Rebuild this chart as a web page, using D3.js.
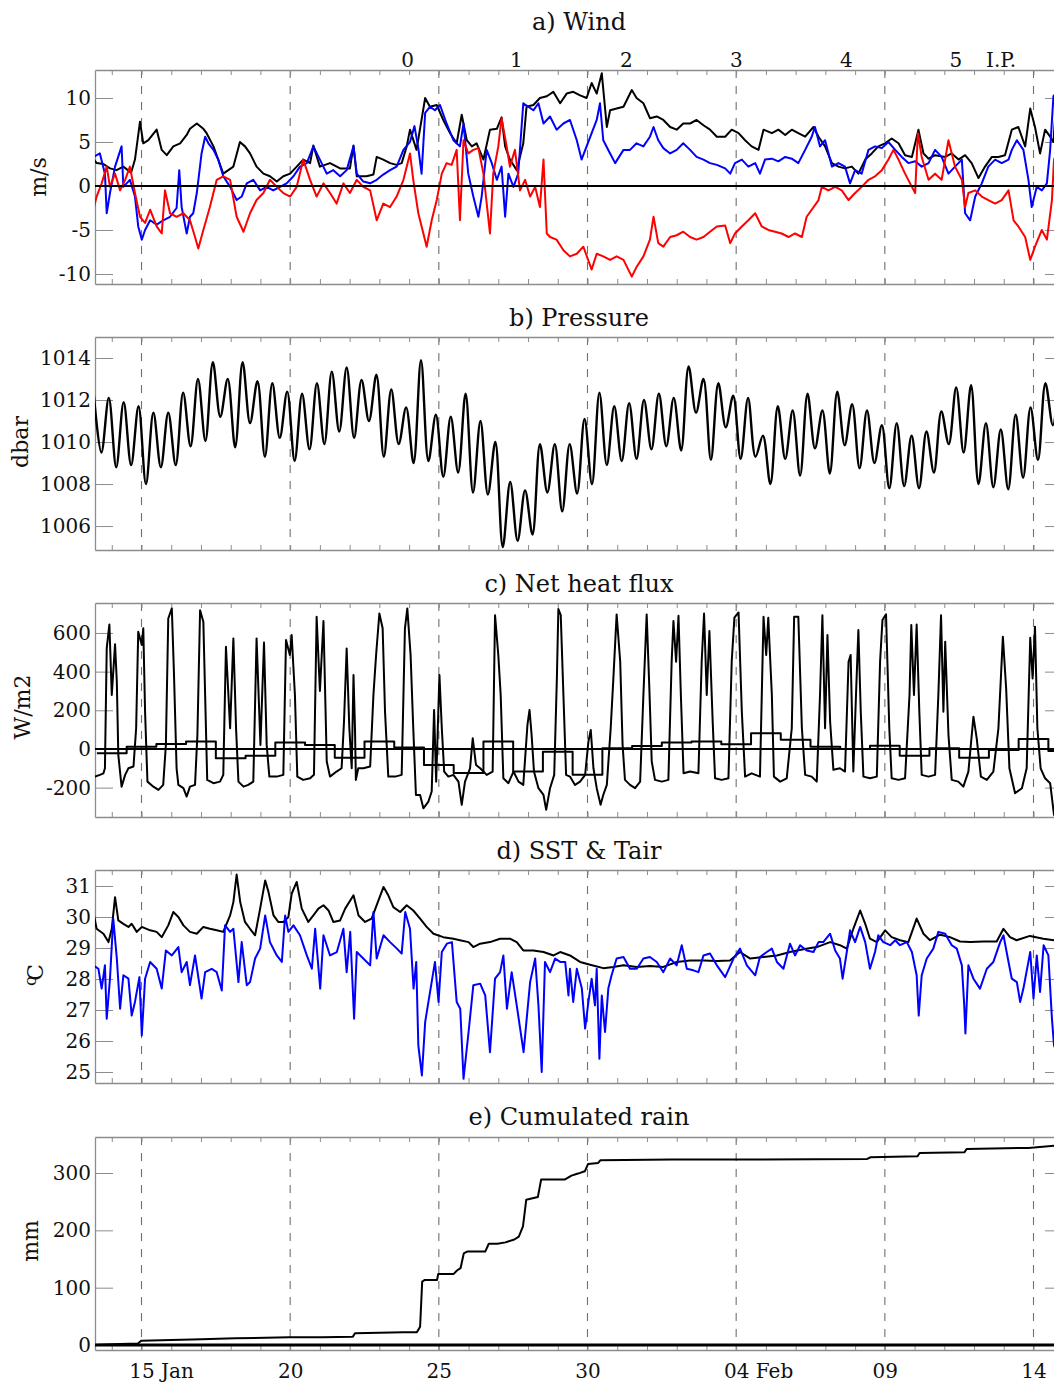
<!DOCTYPE html>
<html>
<head>
<meta charset="utf-8">
<script src="https://cdn.jsdelivr.net/npm/d3@7"></script>
<style>
  body { margin: 0; background: #fff; }
  svg { display: block; }
</style>
</head>
<body>
<svg id="fig" width="1054" height="1383"></svg>
<script>
// Time is expressed in days counted from 0 January (04 Feb = day 35).
const dayTicks = [15, 20, 25, 30, 35, 40, 45];
const dayTickLabels = ["15 Jan", "20", "25", "30", "04 Feb", "09", "14"];

// Labels printed above the wind panel
const phaseDays = [23.93, 27.59, 31.29, 34.99, 38.69, 42.37, 43.89];
const phaseLabels = ["0", "1", "2", "3", "4", "5", "I.P."];

// y tick values of each panel
const windTicks = [-10, -5, 0, 5, 10];
const pressureTicks = [1006, 1008, 1010, 1012, 1014];
const heatTicks = [-200, 0, 200, 400, 600];
const tempTicks = [25, 26, 27, 28, 29, 30, 31];
const rainTicks = [0, 100, 200, 300];

// a) Wind (m/s): speed (black), first component (blue), second component (red)
const windSpeed = [
  [13.38,3.1],[13.49,2.6],[13.72,2.5],[13.94,2.0],[14.16,1.8],[14.39,2.2],[14.65,1.5],[14.78,3.0],
  [14.95,7.3],[15.06,4.85],[15.23,5.2],[15.51,6.4],[15.68,4.1],[15.85,3.5],[16.07,4.5],[16.30,4.85],
  [16.52,5.8],[16.63,6.5],[16.86,7.1],[17.08,6.5],[17.19,6.0],[17.42,4.5],[17.75,1.4],[18.09,2.2],
  [18.31,5.0],[18.48,4.5],[18.65,3.7],[18.87,2.2],[19.10,1.4],[19.32,1.1],[19.55,0.5],[19.77,1.1],
  [20.00,1.4],[20.22,2.2],[20.44,3.0],[20.67,2.6],[20.78,4.6],[21.00,2.2],[21.34,2.6],[21.68,2.0],
  [22.01,2.0],[22.13,4.6],[22.24,1.1],[22.57,1.1],[22.80,1.3],[22.91,3.3],[23.13,3.0],[23.36,2.6],
  [23.58,2.4],[23.75,2.6],[23.92,4.5],
  [24.03,6.4],[24.25,4.1],[24.54,10.0],[24.70,9.0],[24.93,9.2],[25.15,7.5],[25.38,6.0],[25.60,4.85],
  [25.77,8.1],[25.94,5.2],[26.11,4.5],[26.27,4.85],[26.50,3.0],[26.72,6.4],[26.95,6.5],[27.11,7.8],
  [27.23,4.5],[27.39,3.0],[27.62,1.8],[27.84,4.85],[27.95,9.0],[28.18,9.2],[28.40,10.0],[28.63,10.2],
  [28.85,10.7],[29.08,9.4],[29.30,10.5],[29.52,10.7],[29.75,10.3],[29.97,10.0],[30.14,11.7],[30.31,10.5],
  [30.48,12.8],[30.65,6.7],[30.76,8.6],[30.98,8.8],[31.21,9.0],[31.49,10.9],[31.65,10.0],[31.88,9.4],
  [32.10,7.7],[32.33,7.9],[32.55,7.5],[32.78,6.7],[33.00,6.4],[33.22,7.1],[33.45,7.1],[33.67,7.5],
  [33.90,6.9],[34.12,6.4],[34.35,5.6],[34.63,5.6],
  [34.85,6.4],[35.08,6.0],[35.30,5.2],[35.52,4.5],[35.75,4.1],[35.92,6.4],[36.20,6.0],[36.42,6.4],
  [36.65,5.8],[36.87,6.4],[37.09,6.0],[37.32,5.6],[37.60,6.7],[37.77,5.6],[37.99,4.5],[38.22,2.6],
  [38.44,2.2],[38.66,2.0],[38.89,2.2],[39.11,1.4],[39.34,3.0],[39.56,3.7],[39.78,4.5],[40.01,4.85],
  [40.23,5.4],[40.46,4.85],[40.68,3.5],[40.91,3.3],[41.13,6.4],[41.30,3.7],[41.47,3.1],[41.69,3.5],
  [42.03,3.3],[42.25,3.7],[42.48,3.0],[42.70,3.5],[42.92,2.6],[43.15,0.9],[43.37,2.2],[43.60,3.3],
  [43.82,3.3],[44.04,3.5],[44.27,6.4],[44.49,6.7],[44.72,4.5],[44.89,8.8],[45.05,6.7],[45.22,3.7],
  [45.39,6.4],[45.56,5.6],[45.67,5.0],[45.75,9.0]
];
const windU = [
  [13.38,3.3],[13.60,3.7],[13.77,1.4],[13.83,-3.1],[13.94,-0.8],[14.11,2.2],[14.33,4.5],[14.39,-0.1],
  [14.61,0.7],[14.78,-1.2],[14.89,-4.6],[15.01,-6.1],[15.12,-5.0],[15.29,-3.9],[15.51,-4.4],[15.73,-3.9],
  [15.96,-3.5],[16.18,-2.5],[16.27,1.8],[16.35,-2.4],[16.52,-5.4],[16.63,-3.5],[16.74,-3.1],[16.86,-0.8],
  [17.02,3.7],[17.14,5.6],[17.25,4.85],[17.42,4.1],[17.58,3.0],[17.75,1.1],[17.98,-0.1],[18.20,-1.6],
  [18.37,-1.2],[18.54,0.3],[18.76,0.7],[18.99,-0.5],[19.21,-0.1],[19.43,-0.5],[19.66,-0.1],[19.88,0.3],
  [20.11,1.1],[20.33,2.2],[20.56,2.6],[20.78,4.5],[21.00,3.0],[21.23,1.4],[21.45,1.8],[21.68,1.1],
  [21.90,1.8],[22.13,4.5],[22.24,1.4],[22.46,0.5],[22.69,0.3],[22.91,0.7],[23.13,1.3],[23.36,1.8],
  [23.58,2.2],[23.81,4.1],
  [24.03,5.0],[24.18,6.8],[24.31,4.3],[24.42,1.4],[24.54,8.3],[24.70,9.0],[24.87,8.6],[25.04,9.2],
  [25.26,7.1],[25.49,5.2],[25.71,4.5],[25.83,7.1],[25.99,1.4],[26.16,-1.2],[26.33,-3.5],[26.44,-1.2],
  [26.61,4.1],[26.78,2.6],[26.95,0.7],[27.11,2.2],[27.23,-3.5],[27.34,1.4],[27.51,-0.1],[27.67,1.4],
  [27.84,9.4],[28.01,9.0],[28.18,8.6],[28.35,9.4],[28.52,7.1],[28.74,7.9],[28.96,6.4],[29.19,7.1],
  [29.41,7.5],[29.64,5.2],[29.80,3.0],[29.97,4.5],[30.14,6.0],[30.31,7.5],[30.42,9.4],[30.53,5.2],
  [30.76,3.7],[30.93,2.6],[31.21,4.1],[31.43,4.1],[31.65,4.85],[31.88,4.5],[32.10,5.6],[32.22,6.7],
  [32.38,5.2],[32.55,4.3],[32.78,3.7],[33.00,4.1],[33.22,4.85],[33.45,4.1],[33.67,3.3],[33.90,3.0],
  [34.12,2.6],[34.35,2.4],[34.63,2.0],
  [34.80,1.4],[34.96,2.6],[35.19,3.0],[35.41,2.2],[35.64,2.6],[35.80,1.4],[35.97,3.0],[36.20,3.1],
  [36.42,2.8],[36.65,3.3],[36.87,3.1],[37.09,2.6],[37.32,4.1],[37.54,5.6],[37.65,6.7],[37.82,4.5],
  [37.99,5.2],[38.22,2.2],[38.44,2.6],[38.66,2.2],[38.83,0.3],[39.00,1.8],[39.22,1.4],[39.45,4.1],
  [39.67,4.5],[39.90,4.3],[40.12,5.0],[40.35,4.1],[40.57,3.3],[40.79,2.6],[41.02,2.8],[41.24,2.2],
  [41.47,2.6],[41.69,4.1],[41.91,3.3],[42.14,1.4],[42.36,2.2],[42.59,3.0],[42.70,-3.1],[42.87,-3.9],
  [43.04,-1.2],[43.26,0.3],[43.48,2.2],[43.71,3.0],[43.93,2.6],[44.16,3.0],[44.27,4.1],[44.44,5.2],
  [44.66,4.1],[44.83,0.7],[44.94,-2.4],[45.11,-0.1],[45.28,-0.5],[45.45,0.3],[45.56,4.1],[45.67,10.2],
  [45.75,10.5]
];
const windV = [
  [13.38,-2.7],[13.49,-1.2],[13.66,0.3],[13.83,2.2],[13.94,-0.1],[14.11,1.4],[14.28,-0.5],[14.45,0.7],
  [14.61,2.2],[14.78,-0.8],[14.95,-3.5],[15.12,-4.2],[15.29,-2.7],[15.51,-4.6],[15.68,-5.4],[15.79,-0.5],
  [15.96,-3.1],[16.18,-3.5],[16.41,-3.1],[16.63,-3.9],[16.80,-5.8],[16.91,-7.1],[17.08,-5.0],[17.30,-2.4],
  [17.53,0.7],[17.75,1.1],[17.98,0.7],[18.20,-3.5],[18.43,-5.2],[18.65,-3.1],[18.87,-1.6],[19.10,-0.8],
  [19.32,0.7],[19.55,-0.1],[19.77,-0.8],[20.00,-1.2],[20.22,-0.1],[20.44,3.0],[20.67,0.7],[20.89,-1.2],
  [21.12,0.3],[21.34,-0.8],[21.56,-2.0],[21.79,0.3],[22.01,-0.8],[22.24,0.7],[22.46,-0.1],[22.69,-0.5],
  [22.91,-3.9],[23.13,-2.0],[23.36,-2.4],[23.58,-1.2],[23.81,0.7],
  [24.03,3.7],[24.14,0.7],[24.31,-3.1],[24.48,-5.4],[24.59,-6.9],[24.76,-3.9],[24.93,-1.6],[25.10,1.4],
  [25.26,2.6],[25.43,2.4],[25.60,4.1],[25.71,-3.9],[25.83,5.2],[25.99,3.7],[26.16,4.1],[26.33,4.3],
  [26.50,1.4],[26.72,-5.4],[26.83,1.4],[27.00,4.5],[27.11,7.7],[27.28,4.5],[27.39,2.2],[27.56,4.1],
  [27.73,-0.5],[27.90,0.7],[28.07,-1.2],[28.24,-0.1],[28.40,-2.4],[28.52,3.0],[28.63,-5.4],[28.74,-5.8],
  [28.96,-6.1],[29.19,-7.3],[29.41,-8.0],[29.64,-7.7],[29.86,-6.9],[30.14,-9.5],[30.31,-7.7],[30.53,-8.0],
  [30.76,-8.4],[30.98,-8.0],[31.21,-8.4],[31.49,-10.3],[31.65,-9.2],[31.88,-8.0],[32.10,-6.1],[32.22,-3.5],
  [32.38,-6.5],[32.55,-6.9],[32.78,-5.8],[33.00,-5.6],[33.22,-5.2],[33.45,-5.8],[33.67,-6.1],[33.90,-5.8],
  [34.12,-5.2],[34.35,-4.6],[34.63,-4.5],
  [34.80,-6.5],[34.96,-5.4],[35.19,-4.6],[35.41,-3.9],[35.64,-3.1],[35.86,-4.6],[36.08,-5.0],[36.31,-5.2],
  [36.53,-5.4],[36.76,-5.8],[36.98,-5.4],[37.21,-5.8],[37.37,-3.5],[37.54,-2.7],[37.77,-1.6],[37.88,-0.1],
  [38.10,-0.5],[38.33,-0.1],[38.55,-0.5],[38.78,-1.6],[39.00,-0.8],[39.22,-0.1],[39.45,0.7],[39.67,1.1],
  [39.90,1.8],[40.12,3.0],[40.29,4.1],[40.46,3.0],[40.68,1.4],[40.91,-0.1],[41.02,-0.8],[41.11,6.0],
  [41.24,3.3],[41.47,0.7],[41.69,1.4],[41.91,0.7],[42.14,5.2],[42.36,2.2],[42.59,0.7],[42.70,-2.4],
  [42.81,-0.8],[43.04,-0.5],[43.26,-1.2],[43.48,-1.6],[43.71,-2.0],[43.93,-1.6],[44.16,-0.5],[44.33,-3.9],
  [44.49,-4.6],[44.72,-5.8],[44.89,-8.4],[45.05,-6.9],[45.28,-5.0],[45.45,-6.1],[45.62,-1.6],[45.69,3.0],
  [45.75,3.5]
];

// b) Pressure, sampled every 6 hours from day 13.40
const pressureStart = 13.40;
const pressureStep = 0.25;
const pressure = [
  1012.2,1009.5,1012.1,1008.8,1011.9,1008.9,1011.7,1008.0,1011.4,1008.8,1011.4,1008.9,1012.35,1009.8,
  1013.0,1010.05,1013.8,1011.2,1013.0,1009.75,1013.8,1010.9,1012.9,1009.3,1012.8,1010.2,1012.4,1009.1,
  1012.3,1009.65,1012.8,1009.9,1013.35,1010.5,1013.55,1010.2,1012.95,1011.0,1013.2,1009.3,1012.5,1009.9,
  1011.65,1009.0,1013.9,1009.1,1011.3,1008.35,1011.2,1008.55,1012.3,1007.6,1011.0,1007.5,1010.0,1005.0,
  1008.1,1005.3,1007.7,1005.6,1009.9,1007.6,1009.9,1006.7,1009.9,1007.55,1011.1,1008.0,1012.35,1008.9,
  1011.7,1009.1,1011.85,1009.2,1012.0,1009.65,1012.3,1009.8,1012.1,1009.6,1013.6,1011.4,1013.0,1009.15,
  1012.8,1010.7,1012.2,1009.2,1012.1,1009.3,1010.3,1008.0,1011.7,1009.2,1011.5,1008.4,1012.3,1009.7,
  1011.5,1008.5,1012.4,1009.85,1011.8,1008.75,1011.5,1009.0,1010.8,1007.8,1010.9,1007.9,1010.3,1007.8,
  1010.5,1008.55,1011.45,1009.9,1012.6,1009.5,1012.7,1008.0,1010.9,1007.85,1010.6,1007.75,1011.3,1008.3,
  1011.65,1009.15,1012.8,1010.8,1014.2
];

// c) Net heat flux (W/m2)
const heatFlux = [
  [13.30,-150],[13.44,-143],[13.60,-134],[13.72,-126],[13.77,-100],[13.83,520],[13.92,644],[14.00,279],
  [14.11,541],[14.17,348],[14.22,-31],[14.33,-195],[14.45,-134],[14.56,-100],[14.73,-91],[14.82,107],
  [14.89,606],[15.01,538],[15.06,624],[15.12,193],[15.20,-169],[15.40,-195],[15.57,-212],[15.73,-186],
  [15.82,21],[15.90,675],[16.02,727],[16.09,400],[16.18,-100],[16.24,-186],[16.41,-203],[16.52,-246],
  [16.63,-195],[16.80,-186],[16.88,72],[16.97,718],[17.08,658],[17.14,279],[17.21,-160],[17.42,-177],
  [17.64,-169],[17.75,-134],[17.84,529],[17.98,107],[18.09,572],[18.18,107],[18.26,-169],[18.43,-195],
  [18.59,-186],[18.76,-169],[18.87,572],[19.00,21],[19.12,551],[19.21,21],[19.30,-143],[19.55,-143],
  [19.77,-134],[19.86,563],[19.99,486],[20.05,589],[20.16,279],[20.24,-143],[20.44,-160],[20.67,-152],
  [20.80,-134],[20.89,684],[21.00,300],[21.12,662],[21.23,-65],[21.34,-143],[21.56,-117],[21.73,-100],
  [21.81,141],[21.90,520],[21.99,107],[22.07,-100],[22.13,382],[22.18,107],[22.21,-160],[22.29,-100],
  [22.46,-100],[22.69,-91],[22.80,279],[22.89,486],[23.00,701],[23.11,624],[23.19,193],[23.30,-143],
  [23.53,-143],[23.75,-134],[23.86,624],[23.94,727],[24.05,486],[24.14,107],[24.23,-238],[24.37,-238],
  [24.48,-307],[24.65,-272],[24.76,-220],[24.84,202],[24.91,-169],[25.02,382],[25.10,107],[25.18,-117],
  [25.32,-143],[25.49,-134],[25.66,-169],[25.77,-289],[25.88,-169],[26.05,-100],[26.14,55],[26.25,-83],
  [26.39,-100],[26.61,-134],[26.81,-117],[26.89,692],[27.00,486],[27.08,279],[27.17,-152],[27.34,-177],
  [27.51,-117],[27.68,-169],[27.84,-186],[27.98,124],[28.05,202],[28.12,72],[28.20,-117],[28.35,-203],
  [28.52,-238],[28.61,-315],[28.74,-203],[28.88,-134],[28.97,365],[29.02,724],[29.10,692],[29.19,279],
  [29.28,-134],[29.41,-143],[29.58,-186],[29.75,-169],[29.92,-134],[30.03,38],[30.11,98],[30.20,-100],
  [30.31,-203],[30.44,-289],[30.53,-238],[30.65,-186],[30.78,107],[30.87,365],[30.98,696],[31.10,451],
  [31.18,21],[31.26,-160],[31.43,-186],[31.60,-203],[31.77,-169],[31.88,279],[31.99,696],[32.08,313],
  [32.16,-65],[32.27,-160],[32.50,-169],[32.72,-160],[32.83,451],[32.89,662],[32.98,451],[33.06,689],
  [33.14,279],[33.23,-126],[33.45,-117],[33.73,-126],[33.84,451],[33.92,701],[34.01,279],[34.10,610],
  [34.21,141],[34.29,-152],[34.51,-160],[34.74,-152],[34.85,451],[34.94,679],[35.08,706],[35.19,193],
  [35.30,-143],[35.52,-126],[35.80,-143],[35.92,684],[36.01,486],[36.08,679],[36.20,279],[36.27,-143],
  [36.48,-169],[36.70,-152],[36.87,107],[36.95,684],[37.09,684],[37.21,107],[37.32,-134],[37.54,-143],
  [37.71,-169],[37.82,279],[37.90,692],[37.99,107],[38.07,589],[38.16,141],[38.27,-108],[38.49,-100],
  [38.66,-117],[38.78,451],[38.85,486],[38.94,-117],[39.03,279],[39.11,615],[39.19,193],[39.28,-143],
  [39.50,-152],[39.73,-143],[39.84,451],[39.92,667],[40.04,696],[40.15,107],[40.23,-152],[40.46,-160],
  [40.68,-152],[40.83,279],[40.89,641],[40.98,279],[41.07,644],[41.16,193],[41.24,-134],[41.47,-143],
  [41.69,-134],[41.80,279],[41.89,692],[41.97,193],[42.03,555],[42.14,72],[42.25,-160],[42.47,-169],
  [42.64,-195],[42.81,-117],[42.98,167],[43.09,55],[43.23,-143],[43.43,-160],[43.65,-117],[43.82,107],
  [43.97,581],[44.08,313],[44.19,-100],[44.38,-229],[44.61,-203],[44.77,-100],[44.89,575],[44.97,365],
  [45.05,632],[45.13,107],[45.24,-100],[45.39,-152],[45.56,-177],[45.69,-341],[45.80,-360]
];
// Daily means of the net heat flux, one per day from day 14 (each spans day-0.5 .. day+0.5)
const heatDailyFirstDay = 14;
const heatDailyMean = [
  -22, 12, 26, 38, -48, -35, 33, 21, -45, 38, 7, -83, -125, 38, -117, -14,
  -134, 3, 15, 33, 38, 24, 81, 47, 12, 0, 17, -35, 3, -45, -5, 52, -10
];

// d) Sea surface temperature (black) and air temperature (blue), degC
const sst = [
  [13.38,30.16],[13.49,29.62],[13.72,29.46],[13.89,29.19],[14.00,29.62],[14.11,30.64],[14.22,29.89],
  [14.39,29.78],[14.56,29.68],[14.67,29.78],[14.84,29.52],[15.01,29.68],[15.29,29.57],[15.51,29.52],
  [15.68,29.35],[15.90,29.73],[16.07,30.16],[16.24,30.0],[16.41,29.73],[16.63,29.52],[16.86,29.46],
  [17.08,29.68],[17.30,29.62],[17.53,29.57],[17.75,29.52],[17.98,30.05],[18.09,30.48],[18.20,31.37],
  [18.32,30.48],[18.48,29.84],[18.65,29.62],[18.82,29.41],[18.99,30.27],[19.16,31.18],[19.27,30.81],
  [19.44,30.05],[19.60,29.84],[19.77,29.84],[19.94,30.0],[20.05,30.75],[20.22,31.13],[20.39,30.27],
  [20.61,29.84],[20.78,30.05],[20.95,30.27],[21.12,30.38],[21.29,30.21],[21.45,29.84],[21.68,29.89],
  [21.85,30.27],[22.13,30.70],[22.30,30.05],[22.52,29.84],[22.74,29.95],[22.91,30.38],[23.14,30.97],
  [23.30,30.70],[23.47,30.32],[23.70,30.16],[23.92,30.38],[24.14,30.21],[24.37,29.95],[24.59,29.68],
  [24.82,29.46],[25.15,29.35],[25.49,29.30],[25.71,29.25],[26.00,29.19],[26.16,29.03],[26.39,29.14],
  [26.72,29.19],[27.06,29.30],[27.39,29.30],[27.62,29.19],[27.84,28.92],[28.18,28.92],[28.52,28.87],
  [28.86,28.76],[29.08,28.87],[29.41,28.76],[29.75,28.55],[30.09,28.46],[30.53,28.35],[30.87,28.39],
  [31.21,28.44],[31.66,28.39],[32.10,28.42],[32.55,28.39],[33.00,28.55],[33.45,28.6],[33.90,28.6],
  [34.35,28.58],[34.79,28.6],[35.13,28.87],[35.47,28.66],[35.92,28.71],[36.37,28.76],[36.81,28.87],
  [37.26,28.96],[37.71,29.03],[38.16,29.19],[38.49,29.09],[38.72,28.98],[38.94,29.62],[39.17,30.21],
  [39.34,29.78],[39.50,29.30],[39.73,29.19],[40.01,29.57],[40.23,29.35],[40.51,29.25],[40.79,29.19],
  [41.07,29.95],[41.30,29.46],[41.52,29.25],[41.86,29.43],[42.19,29.35],[42.53,29.21],[42.87,29.19],
  [43.32,29.21],[43.76,29.21],[43.99,29.62],[44.21,29.35],[44.43,29.25],[44.88,29.39],[45.33,29.30],
  [45.69,29.25],[45.80,29.24]
];
const airTemp = [
  [13.38,28.44],[13.55,28.33],[13.66,27.69],[13.77,28.44],[13.83,26.72],[13.94,28.01],[14.05,29.95],
  [14.17,28.66],[14.28,27.04],[14.39,28.12],[14.56,28.01],[14.67,26.82],[14.78,27.26],[14.93,28.06],
  [15.01,26.18],[15.12,28.01],[15.29,28.55],[15.51,28.33],[15.68,27.69],[15.82,28.92],[16.02,28.76],
  [16.24,29.03],[16.35,28.22],[16.52,28.55],[16.63,27.80],[16.80,28.76],[17.02,27.37],[17.14,28.22],
  [17.36,28.33],[17.53,28.22],[17.70,27.63],[17.81,29.73],[17.98,29.52],[18.09,29.62],[18.26,27.90],
  [18.37,29.19],[18.54,27.80],[18.65,27.90],[18.82,28.66],[18.99,28.98],[19.16,30.05],[19.32,29.19],
  [19.55,28.76],[19.72,28.55],[19.83,30.05],[19.94,29.52],[20.11,29.73],[20.33,29.41],[20.56,28.76],
  [20.73,28.33],[20.84,29.62],[21.01,27.69],[21.12,29.41],[21.34,28.76],[21.57,28.87],[21.79,29.62],
  [21.90,28.22],[22.02,29.52],[22.15,26.72],[22.24,28.87],[22.46,28.66],[22.69,28.44],[22.80,30.16],
  [22.91,28.66],[23.14,29.41],[23.36,29.19],[23.59,28.98],[23.75,28.82],[23.87,30.16],[24.03,29.62],
  [24.15,27.69],[24.24,28.55],[24.31,25.86],[24.43,24.89],[24.54,26.61],[24.65,27.26],[24.87,28.55],
  [24.99,27.26],[25.10,28.87],[25.27,29.14],[25.44,29.19],[25.60,27.26],[25.72,27.04],[25.83,24.78],
  [26.00,26.29],[26.16,27.80],[26.39,27.85],[26.56,27.47],[26.72,25.64],[26.89,28.01],[27.06,28.22],
  [27.17,28.76],[27.29,27.04],[27.45,28.22],[27.62,27.15],[27.85,25.64],[28.07,27.90],[28.24,28.66],
  [28.35,27.15],[28.46,25.0],[28.57,28.55],[28.74,28.22],[28.91,28.66],[29.08,28.55],[29.25,28.55],
  [29.36,27.47],[29.41,28.33],[29.52,27.26],[29.64,28.33],[29.81,27.69],[29.92,26.40],[30.03,27.26],
  [30.14,28.01],[30.25,27.15],[30.31,28.33],[30.40,25.43],[30.48,27.47],[30.59,26.29],[30.70,27.69],
  [30.81,28.12],[30.98,28.66],[31.21,28.71],[31.43,28.33],[31.66,28.33],[31.88,28.66],[32.10,28.71],
  [32.33,28.55],[32.55,28.22],[32.78,28.66],[33.00,28.44],[33.17,29.09],[33.34,28.33],[33.56,28.28],
  [33.73,28.22],[33.90,28.76],[34.12,28.82],[34.35,28.44],[34.63,28.06],[34.91,28.66],[35.13,28.98],
  [35.36,28.44],[35.64,28.12],[35.80,28.71],[36.03,28.87],[36.20,28.98],[36.37,28.55],[36.59,28.33],
  [36.81,29.14],[36.98,28.76],[37.15,29.09],[37.37,28.92],[37.60,28.87],[37.77,29.19],[37.93,29.19],
  [38.16,29.46],[38.33,28.92],[38.49,28.66],[38.58,28.01],[38.72,28.87],[38.83,29.57],[39.00,29.19],
  [39.17,29.68],[39.34,29.19],[39.50,28.33],[39.67,28.87],[39.78,29.41],[39.95,29.19],[40.18,29.09],
  [40.35,29.25],[40.51,29.09],[40.74,29.19],[40.91,28.87],[41.07,28.12],[41.14,26.82],[41.24,28.12],
  [41.41,28.66],[41.63,28.98],[41.80,29.52],[42.03,29.46],[42.25,29.09],[42.42,28.98],[42.59,28.44],
  [42.67,27.15],[42.71,26.24],[42.81,28.44],[42.98,28.01],[43.20,27.69],[43.43,28.33],[43.65,28.55],
  [43.88,29.19],[43.99,29.41],[44.16,28.55],[44.27,28.01],[44.44,27.90],[44.55,27.26],[44.66,27.69],
  [44.89,28.87],[45.00,27.37],[45.11,28.76],[45.22,27.58],[45.34,29.09],[45.50,28.76],[45.62,26.72],
  [45.69,25.86],[45.80,25.6]
];

// e) Cumulated rain (mm)
const rain = [
  [13.45,0],[13.52,0.5],[14.00,1.5],[14.88,2.5],[14.99,7.6],[17.02,9.9],[18.15,11.7],[19.96,13.4],
  [21.09,13.4],[22.11,14.6],[22.18,20.4],[23.81,22.1],[24.26,22.1],[24.37,32],[24.44,110.6],[24.53,113.5],
  [24.94,113.5],[24.98,124],[25.50,124],[25.61,130],[25.73,134],[25.84,160],[25.95,163],[26.56,163],
  [26.68,176.6],[26.97,176.6],[27.24,179],[27.54,184],[27.69,189],[27.83,207],[27.94,253.4],[28.33,258],
  [28.44,288.5],[29.23,288.5],[29.46,295.5],[29.68,299],[29.91,303],[30.02,315.8],[30.36,317.6],
  [30.43,322.2],[32.85,323.4],[35.11,323.4],[39.41,324.6],[39.52,327.5],[41.10,329.2],[41.17,335],
  [42.68,336.2],[42.75,342],[44.83,343.8],[45.80,348]
];

// ---------------------------------------------------------------------------
const FONT = "DejaVu Serif";
const svg = d3.select("#fig");
const x = d3.scaleLinear().domain([13.436, 45.992]).range([95, 1063]);
const [X0, X1] = x.range();
const frameColor = "#8c8c8c";

function makePanel(cfg) {
  const y = d3.scaleLinear().domain(cfg.domain).range([cfg.bottom, cfg.top]);
  const g = svg.append("g");
  const clipId = "clip-" + cfg.key;
  svg.append("clipPath").attr("id", clipId)
    .append("rect").attr("x", X0).attr("y", cfg.top)
    .attr("width", X1 - X0).attr("height", cfg.bottom - cfg.top);

  // dashed markers every five days
  g.append("g").selectAll("line").data(dayTicks).join("line")
    .attr("x1", d => x(d)).attr("x2", d => x(d))
    .attr("y1", cfg.top).attr("y2", cfg.bottom)
    .attr("stroke", "#707070").attr("stroke-width", 1.1)
    .attr("stroke-dasharray", "8,8");

  const styleAxis = sel => {
    sel.attr("font-family", FONT).attr("font-size", 20).attr("color", frameColor);
    sel.selectAll("path.domain").attr("stroke-width", 1.3);
    sel.selectAll("text").attr("fill", "#111");
  };
  const days = d3.range(14, 46);
  // daily minor ticks along top and bottom edges
  g.append("g").attr("transform", `translate(0,${cfg.top})`)
    .call(d3.axisTop(x).tickValues(days).tickSize(-5).tickSizeOuter(0).tickFormat(""))
    .call(styleAxis);
  g.append("g").attr("transform", `translate(0,${cfg.bottom})`)
    .call(d3.axisBottom(x).tickValues(days).tickSize(-5).tickSizeOuter(0).tickFormat(""))
    .call(styleAxis);
  // y axes (labels on the left, inward ticks on both sides); plain hyphen for negatives
  g.append("g").attr("transform", `translate(${X0},0)`)
    .call(d3.axisLeft(y).tickValues(cfg.ticks).tickSize(-18).tickSizeOuter(0).tickPadding(4)
      .tickFormat(d => String(d)))
    .call(styleAxis);
  g.append("g").attr("transform", `translate(${X1},0)`)
    .call(d3.axisRight(y).tickValues(cfg.ticks).tickSize(-18).tickSizeOuter(0).tickFormat(""))
    .call(styleAxis);

  // title
  svg.append("text").attr("x", (X0 + X1) / 2).attr("y", cfg.titleY)
    .attr("text-anchor", "middle").attr("font-family", FONT).attr("font-size", 24)
    .attr("fill", "#111").text(cfg.title);

  // y label
  const yl = svg.append("text")
    .attr("transform", `translate(${cfg.ylabelX},${cfg.ylabelY}) rotate(-90)`)
    .attr("text-anchor", "middle").attr("dominant-baseline", "central")
    .attr("font-family", FONT).attr("font-size", 22).attr("fill", "#111");
  if (cfg.ylabelParts) {
    cfg.ylabelParts(yl);
  } else {
    yl.text(cfg.ylabel);
  }

  const plot = svg.append("g").attr("clip-path", `url(#${clipId})`);
  return { y, plot };
}

function drawLine(plot, y, data, color, width, curve) {
  plot.append("path").datum(data)
    .attr("fill", "none").attr("stroke", color).attr("stroke-width", width)
    .attr("stroke-linejoin", "round")
    .attr("d", d3.line().x(d => x(d[0])).y(d => y(d[1])).curve(curve || d3.curveLinear));
}
function drawZero(plot, y, width) {
  plot.append("line").attr("x1", X0).attr("x2", X1)
    .attr("y1", y(0)).attr("y2", y(0))
    .attr("stroke", "#000").attr("stroke-width", width);
}

// a) Wind
{
  const { y, plot } = makePanel({
    key: "a", top: 70, bottom: 284, domain: [-11.14, 13.18], ticks: windTicks,
    title: "a) Wind", titleY: 30, ylabel: "m/s", ylabelX: 38, ylabelY: 177
  });
  drawLine(plot, y, windSpeed, "#000", 2);
  drawLine(plot, y, windU, "#0000ff", 2);
  drawLine(plot, y, windV, "#ff0000", 2);
  drawZero(plot, y, 1.8);
  svg.append("g").attr("transform", "translate(0,70)")
    .call(d3.axisTop(x).tickValues(phaseDays).tickSize(0).tickPadding(3)
      .tickFormat((d, i) => phaseLabels[i]))
    .call(s => {
      s.attr("font-family", FONT).attr("font-size", 20);
      s.select("path.domain").remove();
      s.selectAll("text").attr("fill", "#111");
    });
}

// b) Pressure
{
  const { y, plot } = makePanel({
    key: "b", top: 337, bottom: 550, domain: [1004.86, 1015.0], ticks: pressureTicks,
    title: "b) Pressure", titleY: 326, ylabel: "dbar", ylabelX: 20, ylabelY: 442
  });
  const pts = pressure.map((v, i) => [pressureStart + i * pressureStep, v]);
  drawLine(plot, y, pts, "#000", 2.4, d3.curveCatmullRom.alpha(0.5));
}

// c) Net heat flux
{
  const { y, plot } = makePanel({
    key: "c", top: 603, bottom: 817, domain: [-352, 755], ticks: heatTicks,
    title: "c) Net heat flux", titleY: 592, ylabel: "W/m2", ylabelX: 22, ylabelY: 707
  });
  drawLine(plot, y, heatFlux, "#000", 2);
  const steps = heatDailyMean.map((v, i) => [heatDailyFirstDay + i - 0.5, v]);
  steps.push([heatDailyFirstDay + heatDailyMean.length - 0.5, heatDailyMean[heatDailyMean.length - 1]]);
  drawLine(plot, y, steps, "#000", 2, d3.curveStepAfter);
  drawZero(plot, y, 2);
}

// d) SST & Tair
{
  const { y, plot } = makePanel({
    key: "d", top: 870, bottom: 1083, domain: [24.645, 31.516], ticks: tempTicks,
    title: "d) SST & Tair", titleY: 859, ylabelX: 35, ylabelY: 975,
    ylabelParts: t => {
      t.append("tspan").attr("font-size", 17).attr("dy", -5).text("o");
      t.append("tspan").attr("dx", -5).attr("dy", 5).text("C");
    }
  });
  drawLine(plot, y, sst, "#000", 2);
  drawLine(plot, y, airTemp, "#0000ff", 2);
}

// e) Cumulated rain
{
  const { y, plot } = makePanel({
    key: "e", top: 1137, bottom: 1350, domain: [-8.7, 362.8], ticks: rainTicks,
    title: "e) Cumulated rain", titleY: 1125, ylabel: "mm", ylabelX: 30, ylabelY: 1241
  });
  drawZero(plot, y, 3);
  drawLine(plot, y, rain, "#000", 2);

  // date labels: the day number is centred on its tick, the month name follows it
  svg.append("g").attr("transform", "translate(0,1350)")
    .call(d3.axisBottom(x).tickValues(dayTicks).tickSize(0).tickPadding(14)
      .tickFormat((d, i) => dayTickLabels[i].split(" ")[0]))
    .call(s => {
      s.attr("font-family", FONT).attr("font-size", 20);
      s.select("path.domain").remove();
      s.selectAll("text").attr("fill", "#111").each(function (d, i) {
        const full = dayTickLabels[i];
        if (full.indexOf(" ") > 0) {
          const w = this.getComputedTextLength();
          d3.select(this).attr("text-anchor", "start").attr("x", -w / 2).text(full);
        }
      });
    });
}
</script>
</body>
</html>
